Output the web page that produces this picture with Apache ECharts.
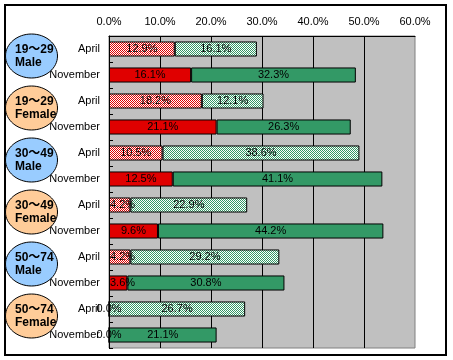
<!DOCTYPE html>
<html><head><meta charset="utf-8">
<script src="https://cdn.jsdelivr.net/npm/echarts@6/dist/echarts.min.js"></script>
<style>html,body{margin:0;padding:0;background:#fff}#c{width:453px;height:360px}</style>
</head><body><div id="c"></div><script>
// ---- data ----
const categories = ['April','November','April','November','April','November','April','November','April','November','April','November'];
const groupAges = ['19～29','19～29','30～49','30～49','50～74','50～74'];
const groupSexes = ['Male','Female','Male','Female','Male','Female'];
const redValues = [12.9,16.1,18.2,21.1,10.5,12.5,4.2,9.6,4.2,3.6,0.0,0.0];
const greenValues = [16.1,32.3,12.1,26.3,38.6,41.1,22.9,44.2,29.2,30.8,26.7,21.1];
const xMin = 0, xMax = 60, xStep = 10;

// ---- styles ----
const FONT = '"Liberation Sans","Noto Sans CJK JP",sans-serif';
const RED = '#E00000', GREEN = '#339966';
function checker(c){
  const cv=document.createElement('canvas');cv.width=2;cv.height=2;
  const x=cv.getContext('2d');x.fillStyle='#fff';x.fillRect(0,0,2,2);
  x.fillStyle=c;x.fillRect(0,0,1,1);x.fillRect(1,1,1,1);return cv;
}
const redPat = {image: checker(RED), repeat:'repeat'};
const greenPat = {image: checker(GREEN), repeat:'repeat'};
function mk(vals, solid, pat){
  return vals.map((v,i)=>{
    const d = {value:v, itemStyle:{color: categories[i]==='April'?pat:solid}};
    if (v>0 && v<6) d.label = {position:'insideLeft', distance:1, width:40, overflow:'none', align:'left'};
    return d;
  });
}
const lbl = {show:true, position:'inside', color:'#000', fontSize:11, fontFamily:FONT,
  overflow:'none', textBorderWidth:0, textBorderColor:'transparent', textShadowBlur:0,
  formatter:p=>p.value.toFixed(1)+'%'};

const chart = echarts.init(document.getElementById('c'), null, {renderer:'canvas'});
chart.setOption({
  animation:false,
  backgroundColor:'#fff',
  grid:{left:109, top:36, width:306, height:312, show:true, backgroundColor:'#C0C0C0', borderColor:'#808080', borderWidth:1},
  xAxis:{type:'value', position:'top', min:xMin, max:xMax, interval:xStep,
    axisLine:{show:true, lineStyle:{color:'#000', width:1}},
    axisTick:{show:false},
    splitLine:{show:true, showMinLine:false, showMaxLine:false, lineStyle:{color:'#000', width:1}},
    axisLabel:{formatter:v=>v.toFixed(1)+'%', margin:9, fontSize:11, color:'#000', fontFamily:FONT}},
  yAxis:{type:'category', inverse:true, data:categories,
    axisLine:{show:true, lineStyle:{color:'#000', width:1}},
    axisTick:{show:true, inside:true, length:4, lineStyle:{color:'#000'}},
    axisLabel:{margin:9, fontSize:11, color:'#000', fontFamily:FONT}},
  series:[
    {type:'bar', stack:'a', zlevel:1, barWidth:'58%', data:mk(redValues, RED, redPat),
      itemStyle:{borderColor:'#000', borderWidth:1}, label:lbl, labelLayout:{hideOverlap:false}},
    {type:'bar', stack:'a', barWidth:'58%', data:mk(greenValues, GREEN, greenPat),
      itemStyle:{borderColor:'#000', borderWidth:1}, label:lbl}
  ]
});

const els = [{type:'rect', shape:{x:5,y:5,width:441,height:350}, style:{fill:null, stroke:'#000', lineWidth:2}, z:10}];
groupSexes.forEach((sex,g)=>{
  const y1 = chart.convertToPixel({yAxisIndex:0}, 2*g);
  const y2 = chart.convertToPixel({yAxisIndex:0}, 2*g+1);
  const yc = (y1+y2)/2;
  els.push({type:'ellipse', shape:{cx:31.5, cy:yc-6, rx:26, ry:22},
    style:{fill: sex==='Male'?'#99CCFF':'#FFCC99', stroke:'#000', lineWidth:1}, z:10});
  els.push({type:'text', x:15, y:yc-12, style:{text:groupAges[g], font:'bold 12px '+FONT, fill:'#000', verticalAlign:'middle', align:'left'}, z:11});
  els.push({type:'text', x:15, y:yc+1, style:{text:sex, font:'bold 12px '+FONT, fill:'#000', verticalAlign:'middle', align:'left'}, z:11});
});
chart.setOption({graphic:{elements:els}});
</script></body></html>
